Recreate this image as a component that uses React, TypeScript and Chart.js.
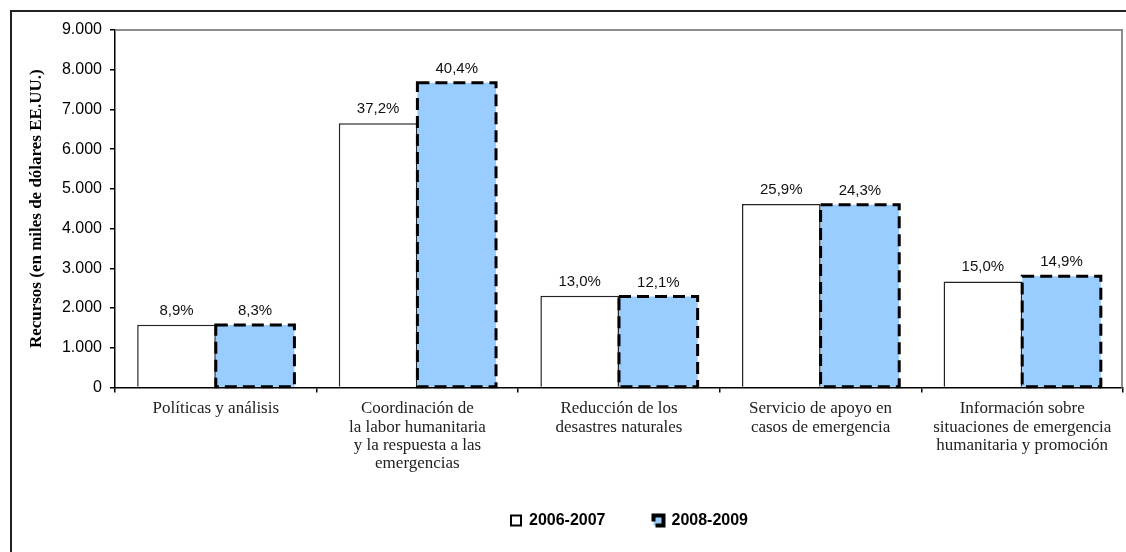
import { useEffect, useRef } from 'react';
import { Chart, registerables } from 'chart.js';

Chart.register(...registerables);

const categories: string[][] = [
  ['Políticas y análisis'],
  ['Coordinación de', 'la labor humanitaria', 'y la respuesta a las', 'emergencias'],
  ['Reducción de los', 'desastres naturales'],
  ['Servicio de apoyo en', 'casos de emergencia'],
  ['Información sobre', 'situaciones de emergencia', 'humanitaria y promoción'],
];
const seriesNames = ['2006-2007', '2008-2009'];
const values2006 = [1580, 6650, 2310, 4620, 2670];
const values2008 = [1575, 7670, 2290, 4600, 2800];
const pct2006 = ['8,9%', '37,2%', '13,0%', '25,9%', '15,0%'];
const pct2008 = ['8,3%', '40,4%', '12,1%', '24,3%', '14,9%'];
const yTickValues = [0, 1000, 2000, 3000, 4000, 5000, 6000, 7000, 8000, 9000];
const yTickLabels = ['0', '1.000', '2.000', '3.000', '4.000', '5.000', '6.000', '7.000', '8.000', '9.000'];
const yAxisTitle = 'Recursos (en miles de dólares EE.UU.)';

const plotFrame = {
  id: 'plotFrame',
  beforeDatasetsDraw(chart: any) {
    const { ctx, chartArea } = chart;
    const { left, top, right, bottom } = chartArea;
    ctx.save();
    ctx.strokeStyle = '#8c8c8c';
    ctx.lineWidth = 2;
    ctx.beginPath();
    ctx.moveTo(left, top);
    ctx.lineTo(right - 1, top);
    ctx.lineTo(right - 1, bottom);
    ctx.stroke();
    ctx.restore();
  },
};

const dashedBars = {
  id: 'dashedBars',
  afterDatasetsDraw(chart: any) {
    const { ctx } = chart;
    const meta = chart.getDatasetMeta(1);
    ctx.save();
    ctx.strokeStyle = '#000';
    ctx.lineWidth = 3;
    ctx.setLineDash([12, 6]);
    meta.data.forEach((bar: any) => {
      const { x, y, base, width } = bar.getProps(['x', 'y', 'base', 'width'], true);
      ctx.strokeRect(x - width / 2, y, width, base - y);
    });
    ctx.restore();
  },
};

const pctLabels = {
  id: 'pctLabels',
  afterDatasetsDraw(chart: any) {
    const { ctx } = chart;
    ctx.save();
    ctx.font = '15px "Liberation Sans", Arial, sans-serif';
    ctx.fillStyle = '#111';
    ctx.textAlign = 'center';
    ctx.textBaseline = 'alphabetic';
    [pct2006, pct2008].forEach((labels, di) => {
      chart.getDatasetMeta(di).data.forEach((bar: any, i: number) => {
        ctx.fillText(labels[i], bar.x, bar.y - 10);
      });
    });
    ctx.restore();
  },
};

const legendShift = {
  id: 'legendShift',
  afterLayout(chart: any) {
    if (chart.legend) {
      chart.legend.left += 58;
      chart.legend.right += 58;
      chart.legend.top -= 8;
      chart.legend.bottom -= 8;
    }
  },
};

export default function App() {
  const canvasRef = useRef<HTMLCanvasElement | null>(null);

  useEffect(() => {
    if (!canvasRef.current) return;
    const chart = new Chart(canvasRef.current, {
      type: 'bar',
      data: {
        labels: categories,
        datasets: [
          {
            label: seriesNames[0],
            data: values2006,
            backgroundColor: '#ffffff',
            borderColor: '#222222',
            borderWidth: 1.5,
            categoryPercentage: 0.78,
            barPercentage: 1,
          },
          {
            label: seriesNames[1],
            data: values2008,
            backgroundColor: '#99CCFF',
            borderWidth: 0,
            categoryPercentage: 0.78,
            barPercentage: 1,
          },
        ],
      },
      options: {
        responsive: false,
        animation: false,
        devicePixelRatio: 1,
        layout: { padding: { left: 20, right: 3, top: 30, bottom: 5.5 } },
        plugins: {
          tooltip: { enabled: false },
          legend: {
            position: 'bottom',
            labels: {
              boxWidth: 10,
              boxHeight: 10,
              padding: 48,
              color: '#000',
              font: { family: '"Liberation Sans", Arial, sans-serif', size: 16, weight: 'bold' },
              generateLabels: (c: any) =>
                c.data.datasets.map((ds: any, i: number) => ({
                  text: ds.label,
                  fillStyle: ds.backgroundColor,
                  strokeStyle: '#000',
                  lineWidth: i === 0 ? 2 : 4,
                  lineDash: i === 0 ? [] : [28, 6],
                  hidden: false,
                  datasetIndex: i,
                })),
            },
          },
        },
        scales: {
          x: {
            ticks: {
              font: { family: '"Liberation Serif", "Times New Roman", serif', size: 17, lineHeight: 1.08 },
              color: '#222',
              padding: 7,
              maxRotation: 0,
              autoSkip: false,
            },
            grid: { offset: true, drawOnChartArea: false, tickLength: 5, color: '#000', lineWidth: 1.5 },
            border: { color: '#000', width: 1.5 },
            afterFit: (s: any) => {
              s.height = 85;
            },
          },
          y: {
            min: 0,
            max: 9000,
            afterBuildTicks: (s: any) => {
              s.ticks = yTickValues.map((v) => ({ value: v }));
            },
            ticks: {
              callback: (v: any) => yTickLabels[yTickValues.indexOf(Number(v))],
              font: { family: '"Liberation Sans", Arial, sans-serif', size: 16 },
              color: '#000',
              padding: 8,
            },
            grid: { drawOnChartArea: false, tickLength: 5, color: '#000', lineWidth: 1.5 },
            border: { color: '#000', width: 1.5 },
            title: {
              display: true,
              text: yAxisTitle,
              color: '#000',
              font: { family: '"Liberation Serif", "Times New Roman", serif', size: 17, weight: 'bold' },
              padding: { top: 6, bottom: 0 },
            },
            afterFit: (s: any) => {
              s.width = 95;
            },
          },
        },
      },
      plugins: [plotFrame, dashedBars, pctLabels, legendShift],
    } as any);
    return () => chart.destroy();
  }, []);

  return (
    <div style={{ position: 'absolute', left: 0, top: 0, width: 1126, height: 552, background: '#fff' }}>
      <div
        style={{
          position: 'absolute',
          left: 10,
          top: 10,
          right: 0,
          bottom: 0,
          borderTop: '2px solid #222',
          borderLeft: '2px solid #222',
        }}
      />
      <canvas ref={canvasRef} width={1126} height={552} style={{ position: 'absolute', left: 0, top: 0, display: 'block' }} />
    </div>
  );
}
